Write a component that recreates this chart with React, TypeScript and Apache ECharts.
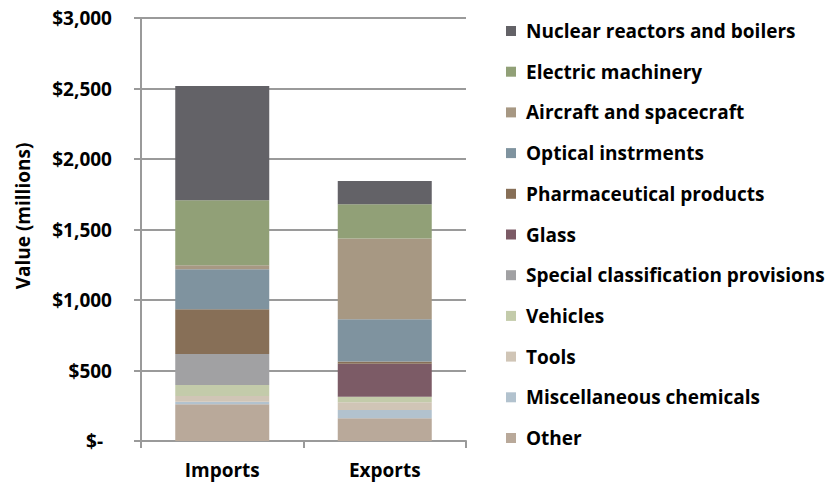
import React, { useEffect, useRef } from "react";
import * as echarts from "echarts";

const categories = ["Imports", "Exports"];
const seriesNames = [
  "Other",
  "Miscellaneous chemicals",
  "Tools",
  "Vehicles",
  "Special classification provisions",
  "Glass",
  "Pharmaceutical products",
  "Optical instrments",
  "Aircraft and spacecraft",
  "Electric machinery",
  "Nuclear reactors and boilers",
];
const other = [260, 161];
const miscChemicals = [19, 59];
const tools = [40, 54];
const vehicles = [78, 40];
const specialClassification = [220, 0];
const glass = [0, 234];
const pharmaceutical = [317, 15];
const optical = [284, 300];
const aircraft = [28, 574];
const electric = [461, 242];
const nuclear = [811, 165];
const seriesValues = [
  other,
  miscChemicals,
  tools,
  vehicles,
  specialClassification,
  glass,
  pharmaceutical,
  optical,
  aircraft,
  electric,
  nuclear,
];
const colors = [
  "#B9A99A",
  "#B2C2CE",
  "#D0C5B6",
  "#C3CBAA",
  "#A1A1A3",
  "#7C5B66",
  "#876F57",
  "#7F939F",
  "#A79883",
  "#91A077",
  "#636267",
];
const yTicks = [0, 500, 1000, 1500, 2000, 2500, 3000];

const FONT = "Open Sans";
const FS = 19;

export default function App() {
  const ref = useRef<HTMLDivElement>(null);
  useEffect(() => {
    if (!ref.current) return;
    const chart = echarts.init(ref.current, undefined, { renderer: "svg" });
    chart.setOption({
      animation: false,
      backgroundColor: "#ffffff",
      textStyle: { fontFamily: FONT, fontWeight: "bold", color: "#000" },
      grid: { left: 141, right: 368, top: 18, bottom: 43, containLabel: false },
      legend: {
        orient: "vertical",
        left: 506,
        top: 20,
        padding: 0,
        itemWidth: 10,
        itemHeight: 10,
        itemGap: 18.7,
        icon: "rect",
        data: [...seriesNames].reverse(),
        textStyle: {
          fontFamily: FONT,
          fontWeight: "bold",
          fontSize: FS,
          color: "#000",
          lineHeight: 22,
          padding: [0, 0, 0, 5],
        },
      },
      xAxis: {
        type: "category",
        data: categories,
        axisLine: { lineStyle: { color: "#9a9a9a", width: 2 } },
        axisTick: { show: true, length: 7, lineStyle: { color: "#9a9a9a", width: 2 } },
        axisLabel: {
          margin: 19,
          fontFamily: FONT,
          fontWeight: "bold",
          fontSize: FS,
          color: "#000",
        },
      },
      yAxis: {
        type: "value",
        min: yTicks[0],
        max: yTicks[yTicks.length - 1],
        interval: 500,
        axisLine: { show: true, lineStyle: { color: "#9a9a9a", width: 2 } },
        axisTick: { show: true, length: 7, lineStyle: { color: "#9a9a9a", width: 2 } },
        splitLine: { show: true, lineStyle: { color: "#9a9a9a", width: 2 } },
        axisLabel: {
          margin: 29,
          fontFamily: FONT,
          fontWeight: "bold",
          fontSize: FS,
          color: "#000",
          formatter: (v: number) =>
            v === 0 ? "{z|$-}" : "$" + v.toLocaleString("en-US"),
          rich: {
            z: {
              fontFamily: FONT,
              fontWeight: "bold",
              fontSize: FS,
              color: "#000",
              padding: [0, 9, 0, 0],
            },
          },
        },
      },
      graphic: [
        {
          type: "text",
          x: 23,
          y: 216,
          rotation: Math.PI / 2,
          style: {
            text: "Value (millions)",
            fontFamily: FONT,
            fontWeight: "bold",
            fontSize: FS,
            fill: "#000",
            align: "center",
            verticalAlign: "middle",
          },
        },
      ],
      series: seriesNames.map((name, i) => ({
        name,
        type: "bar",
        stack: "total",
        barWidth: 94,
        data: seriesValues[i],
        itemStyle: { color: colors[i] },
      })),
    });
    return () => chart.dispose();
  }, []);
  return (
    <div
      ref={ref}
      style={{ position: "fixed", left: 0, top: 0, width: 834, height: 484 }}
    />
  );
}
